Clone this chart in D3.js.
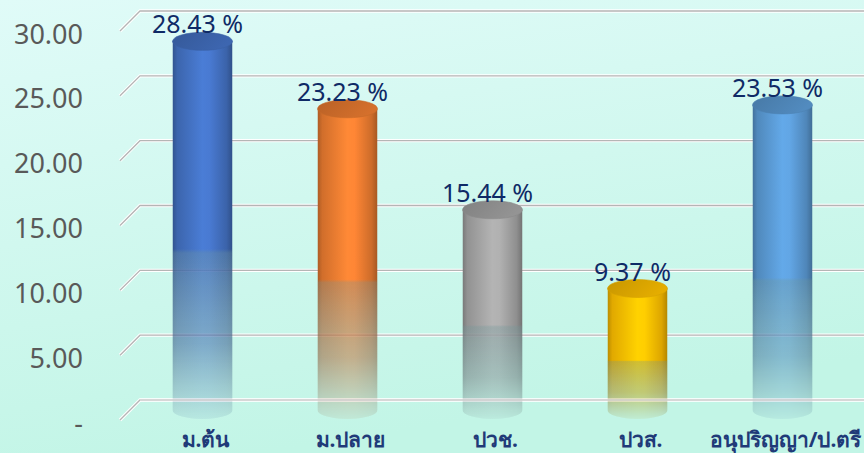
<!DOCTYPE html>
<html>
<head>
<meta charset="utf-8">
<script src="https://cdn.jsdelivr.net/npm/d3@7/dist/d3.min.js"></script>
<style>
  html, body { margin: 0; padding: 0; overflow: hidden; }
  svg { display: block; }
</style>
</head>
<body>
<div id="chart"></div>
<script>
// education level shares (%)
const categories = ['ม.ต้น', 'ม.ปลาย', 'ปวช.', 'ปวส.', 'อนุปริญญา/ป.ตรี'];
const values = [28.43, 23.23, 15.44, 9.37, 23.53];
const barColors = ['#4472C4', '#ED7D31', '#A5A5A5', '#FFC000', '#5B9BD5'];
const yTicks = [0, 5, 10, 15, 20, 25, 30];
const yTickLabels = ['-', '5.00', '10.00', '15.00', '20.00', '25.00', '30.00'];

const W = 864, H = 453;
const depth = 20;        // back wall -> front offset
const rx = 30, ry = 9;   // cylinder ellipse

const svg = d3.select('#chart').append('svg')
  .attr('width', W).attr('height', H);

const defs = svg.append('defs');

// background
const bg = defs.append('linearGradient').attr('id', 'bg')
  .attr('x1', 0).attr('y1', 0).attr('x2', 0.3).attr('y2', 1);
bg.append('stop').attr('offset', 0).attr('stop-color', '#e0fbf8');
bg.append('stop').attr('offset', 1).attr('stop-color', '#c2f5e6');
svg.append('rect').attr('width', W).attr('height', H).attr('fill', 'url(#bg)');

// back-wall scale, front/mid are shifted down by depth
const y = d3.scaleLinear().domain([0, 30]).range([400, 11]);
const x = d3.scaleBand().domain(categories).range([130, 855]);

// gridlines: diagonal floor stub + horizontal back line
const grid = svg.append('g');
yTicks.forEach(t => {
  const yb = y(t), yf = y(t) + depth;
  const pts = `M${120},${yf} L${140},${yb} L${W},${yb}`;
  grid.append('path').attr('d', pts).attr('fill', 'none')
    .attr('stroke', '#ffffff').attr('stroke-width', 3.4);
  grid.append('path').attr('d', pts).attr('fill', 'none')
    .attr('stroke', '#b5b5b5').attr('stroke-width', 1.3);
});

// y labels
svg.append('g').selectAll('text')
  .data(yTicks)
  .join('text')
  .attr('x', 83)
  .attr('y', (d, i) => y(d) + depth + 2)
  .attr('text-anchor', 'end')
  .attr('dominant-baseline', 'central')
  .attr('font-family', 'Noto Sans, sans-serif')
  .attr('font-size', 27)
  .attr('fill', '#595959')
  .text((d, i) => yTickLabels[i]);

// fade mask for lower part of each cylinder
const fadeG = defs.append('linearGradient').attr('id', 'fadeG')
  .attr('x1', 0).attr('y1', 0).attr('x2', 0).attr('y2', 1);
fadeG.append('stop').attr('offset', 0).attr('stop-color', '#fff');
fadeG.append('stop').attr('offset', 0.55).attr('stop-color', '#fff');
fadeG.append('stop').attr('offset', 0.56).attr('stop-color', '#e8e8e8');
fadeG.append('stop').attr('offset', 0.8).attr('stop-color', '#999');
fadeG.append('stop').attr('offset', 1).attr('stop-color', '#1a1a1a');
defs.append('mask').attr('id', 'fade')
  .attr('maskContentUnits', 'objectBoundingBox')
  .append('rect').attr('width', 1).attr('height', 1).attr('fill', 'url(#fadeG)');

// greyish shade over the fading part
const shadeG = defs.append('linearGradient').attr('id', 'shadeG')
  .attr('x1', 0).attr('y1', 0).attr('x2', 0).attr('y2', 1);
shadeG.append('stop').attr('offset', 0.55).attr('stop-color', '#4d6f78').attr('stop-opacity', 0);
shadeG.append('stop').attr('offset', 0.56).attr('stop-color', '#4d6f78').attr('stop-opacity', 0.25);
shadeG.append('stop').attr('offset', 1).attr('stop-color', '#4d6f78').attr('stop-opacity', 0.45);

// bars
const bars = svg.append('g');
categories.forEach((c, i) => {
  const base = d3.color(barColors[i]);
  const cx = x(c) + x.bandwidth() / 2;
  const yt = y(values[i]) + depth / 2;
  const yb = y(0) + depth / 2;

  const g = defs.append('linearGradient').attr('id', 'body' + i)
    .attr('x1', 0).attr('y1', 0).attr('x2', 1).attr('y2', 0);
  [[0, base.darker(0.9)], [0.08, base.darker(0.35)], [0.5, base.brighter(0.25)],
   [0.62, base.brighter(0.2)], [0.9, base.darker(0.4)], [1, base.darker(1.0)]]
    .forEach(s => g.append('stop').attr('offset', s[0]).attr('stop-color', s[1].formatHex()));

  const tg = defs.append('linearGradient').attr('id', 'top' + i)
    .attr('x1', 0).attr('y1', 0).attr('x2', 1).attr('y2', 0.3);
  tg.append('stop').attr('offset', 0).attr('stop-color', base.darker(0.7).formatHex());
  tg.append('stop').attr('offset', 1).attr('stop-color', base.darker(0.3).formatHex());

  const shape = `M${cx - rx},${yt} L${cx - rx},${yb} A${rx},${ry} 0 0 0 ${cx + rx},${yb} L${cx + rx},${yt} Z`;
  const body = bars.append('g').attr('mask', 'url(#fade)');
  body.append('path').attr('d', shape).attr('fill', `url(#body${i})`);
  body.append('path').attr('d', shape).attr('fill', 'url(#shadeG)');

  bars.append('ellipse')
    .attr('cx', cx).attr('cy', yt).attr('rx', rx).attr('ry', ry)
    .attr('fill', `url(#top${i})`)
    .attr('stroke', base.darker(0.5).formatHex()).attr('stroke-width', 0.6);

  // value label
  bars.append('text')
    .attr('x', cx - 5).attr('y', yt - ry + 1)
    .attr('text-anchor', 'middle')
    .attr('font-family', 'Noto Sans, sans-serif')
    .attr('font-size', 25)
    .attr('fill', '#0f2a66')
    .text(values[i].toFixed(2) + ' %');
});

// zero gridline shows through the faded bar bottoms
const z = y(0);
svg.append('path').attr('d', `M140,${z} L${W},${z}`)
  .attr('stroke', '#ffffff').attr('stroke-width', 3).attr('opacity', 0.6);
svg.append('path').attr('d', `M140,${z} L${W},${z}`)
  .attr('stroke', '#bdbdbd').attr('stroke-width', 1.2).attr('opacity', 0.8);

// category labels
svg.append('g').selectAll('text')
  .data(categories)
  .join('text')
  .attr('x', d => x(d) + x.bandwidth() / 2 + 3)
  .attr('y', 447)
  .attr('text-anchor', 'middle')
  .attr('font-family', 'Noto Sans, sans-serif')
  .attr('font-weight', 'bold')
  .attr('font-size', 21)
  .attr('fill', '#1f3a78')
  .text(d => d);
</script>
</body>
</html>
